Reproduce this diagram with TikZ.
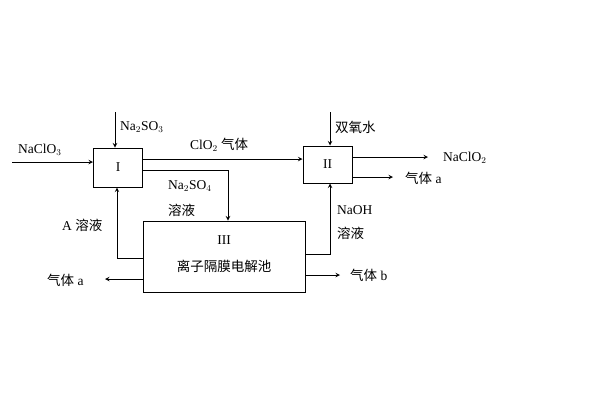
\documentclass[tikz,border=0pt]{standalone}
\usepackage{fontspec}
\setmainfont{Liberation Serif}
\newfontfamily\cjk{Noto Sans CJK SC}
\begin{document}
\begin{tikzpicture}[x=1pt,y=-1pt,font=\fontsize{13.5}{15}\selectfont,
  box/.style={draw,line width=1pt,inner sep=0},
  arr/.style={->,>=stealth,line width=1pt},
  lbl/.style={inner sep=0,anchor=west}]
\useasboundingbox (0,0) rectangle (600,400);
\node[box,minimum width=49pt,minimum height=39pt] (I) at (118,167.5) {I};
\node[box,minimum width=49pt,minimum height=37pt] (II) at (327.5,164.5) {II};
\node[box,minimum width=162pt,minimum height=71pt] (III) at (224,256.5) {};
\node[inner sep=0] (t3) at (224,240) {III};
\node[inner sep=0] (t3b) at (224,266) {\cjk 离子隔膜电解池};
\coordinate (s1) at (12,162);
\draw[arr] (s1) -- (s1-|I.west);
\node[lbl] (l1) at (18,150) {NaClO$_3$};
\coordinate (s2) at (115,112);
\draw[arr] (s2) -- (s2|-I.north);
\node[lbl] (l2) at (120,127) {Na$_2$SO$_3$};
\coordinate (c1) at (143,159);
\draw[arr] (c1) -- (c1-|II.west);
\node[lbl] (l3) at (190,145) {ClO$_2$ {\cjk 气体}};
\coordinate (c2) at (143,170);
\coordinate (c3) at (228,170);
\draw[arr] (c2) -- (c3) -- (c3|-III.north);
\node[lbl] (l4) at (168,186) {Na$_2$SO$_4$};
\node[lbl] (l5) at (168,210) {\cjk 溶液};
\coordinate (a1) at (143,258);
\coordinate (a2) at (117,258);
\draw[arr] (a1) -- (a2) -- (a2|-I.south);
\node[lbl] (l6) at (62,225) {A {\cjk 溶液}};
\coordinate (g1) at (143,279);
\coordinate (g2) at (105,279);
\draw[arr] (g1) -- (g2);
\node[lbl] (l7) at (47,280) {{\cjk 气体} a};
\coordinate (b1) at (305,275);
\coordinate (b2) at (340,275);
\draw[arr] (b1) -- (b2);
\node[lbl] (l8) at (350,275) {{\cjk 气体} b};
\coordinate (n1) at (305,254);
\coordinate (n2) at (330,254);
\draw[arr] (n1) -- (n2) -- (n2|-II.south);
\node[lbl] (l9) at (337,210) {NaOH};
\node[lbl] (l10) at (337,233) {\cjk 溶液};
\coordinate (h1) at (330,112);
\draw[arr] (h1) -- (h1|-II.north);
\node[lbl] (l11) at (335,127) {\cjk 双氧水};
\coordinate (o1) at (352,157);
\coordinate (o2) at (428,157);
\draw[arr] (o1) -- (o2);
\node[lbl] (l12) at (443,158) {NaClO$_2$};
\coordinate (p1) at (352,177);
\coordinate (p2) at (393,177);
\draw[arr] (p1) -- (p2);
\node[lbl] (l13) at (405,178) {{\cjk 气体} a};
\end{tikzpicture}
\end{document}
